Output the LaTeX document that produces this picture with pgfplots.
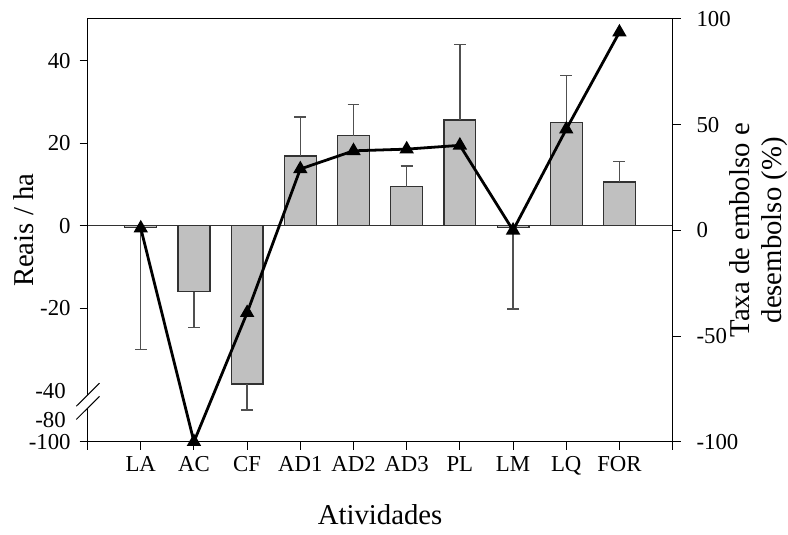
\documentclass[border=0pt]{standalone}
\usepackage{fontspec}
\setmainfont{Liberation Serif}
\usepackage{pgfplots}
\pgfplotsset{compat=1.18}

\definecolor{barfill}{RGB}{192,192,192}
\definecolor{baredge}{RGB}{50,50,50}
\definecolor{errc}{RGB}{80,80,80}

\pgfplotsset{
  common/.style={
    scale only axis, width=294bp, height=212.5bp,
    xmin=0, xmax=11,
    tick align=outside,
    major tick length=4bp,
    tick style={black, line width=0.5bp},
    axis line style={line width=0.5bp},
    ticklabel style={font=\fontsize{11.5}{13}\selectfont},
    label style={font=\fontsize{14.5}{16.5}\selectfont, inner sep=0pt},
    clip=false,
  },
  bars/.style={ybar, bar width=0.6, fill=barfill, draw=baredge, line width=0.6bp,
    error bars/.cd, y dir=#1, y explicit,
    error bar style={errc, line width=0.7bp},
    error mark options={errc, rotate=90, mark size=3bp, line width=0.7bp}},
}

\begin{document}
\begin{tikzpicture}
% bars (left axis, broken below -40)
\begin{axis}[
  common,
  ymin=-52.3, ymax=50.1,
  xtick={0,...,11},
  xticklabels={,LA,AC,CF,AD1,AD2,AD3,PL,LM,LQ,FOR,},
  xtick pos=bottom, ytick pos=left,
  ytick={-52.3,-20,0,20,40},
  yticklabels={-100,-20,0,20,40},
  yticklabel style={xshift=-1bp},
  extra y ticks={-47,-40},
  extra y tick labels={-80,-40},
  extra y tick style={major tick length=0pt, yticklabel style={xshift=-6.5bp}},
  ylabel={Reais / ha},
  ylabel style={at={(rel axis cs:-0.109,0.5)}, anchor=center},
  xlabel={Atividades},
  xlabel style={at={(rel axis cs:0.5,-0.172)}, anchor=center},
]
\draw[baredge, line width=0.5bp] (axis cs:0,0) -- (axis cs:11,0);
% negative bars, error below
\addplot[bars=minus] coordinates {
  (1,-0.5)  -= (0,29.5)
  (2,-16.0) -= (0,8.6)
  (3,-38.3) -= (0,6.3)
  (8,-0.5)  -= (0,19.7)
};
% positive bars, error above
\addplot[bars=plus] coordinates {
  (4,16.9)  += (0,9.4)
  (5,21.8)  += (0,7.6)
  (6,9.5)   += (0,5.0)
  (7,25.6)  += (0,18.3)
  (9,25.1)  += (0,11.3)
  (10,10.6) += (0,4.9)
};
% axis break
\fill[white] (axis cs:-0.212,-43.7) -- (axis cs:0.225,-38.1)
  -- (axis cs:0.225,-41.3) -- (axis cs:-0.212,-46.9) -- cycle;
\draw[line width=0.5bp] (axis cs:-0.212,-43.7) -- (axis cs:0.225,-38.1);
\draw[line width=0.5bp] (axis cs:-0.212,-46.9) -- (axis cs:0.225,-41.3);
\end{axis}

% line: rate (right axis)
\begin{axis}[
  common,
  ymin=-100, ymax=100,
  axis x line=none, axis y line*=right,
  ytick={-100,-50,0,50,100},
  yticklabels={-100,-50,0,50,100},
  yticklabel style={xshift=4.5bp},
  ylabel={Taxa de embolso e\\desembolso (\%)},
  ylabel style={align=center, at={(rel axis cs:1.147,0.5)}, anchor=center},
]
\addplot[black, line width=1.4bp, mark=triangle*, mark size=2.8bp] coordinates {
  (1,1) (2,-100) (3,-39) (4,29) (5,37.6) (6,38.4) (7,40.2) (8,0) (9,47.8) (10,93.7)
};
\path (rel axis cs:-0.1497,-0.2188) rectangle (rel axis cs:1.1905,1.0447);
\end{axis}
\end{tikzpicture}
\end{document}
